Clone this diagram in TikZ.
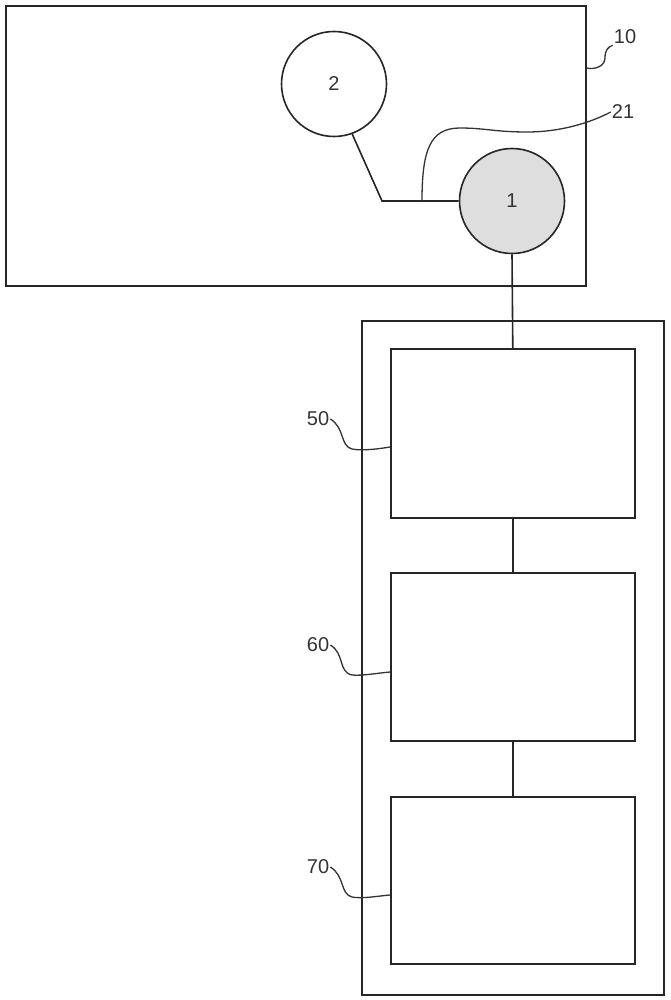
\documentclass[tikz,border=0pt]{standalone}
\usepackage{fontspec}
\setmainfont{Liberation Sans}
\usetikzlibrary{calc}
\begin{document}
\begin{tikzpicture}[x=1pt,y=-1pt,
  ln/.style={line width=1.6pt, draw=black!85},
  blk/.style={ln, rectangle, anchor=north west, inner sep=0pt},
  circ/.style={ln, circle, inner sep=0pt, minimum size=105pt, font=\fontsize{20}{23}\selectfont, text=black!80},
  lbl/.style={font=\fontsize{20}{23}\selectfont, text=black!80, inner sep=1pt},
  lead/.style={line width=1.3pt, draw=black!80}]
\useasboundingbox (0,0) rectangle (670,1000);
% top housing
\node[blk, minimum width=580pt, minimum height=280pt] (top) at (5,5) {};
\node[circ] (c2) at (334,84) {2};
\node[circ, fill=black!13] (c1) at (512,201) {1};
% lower housing and blocks
\node[blk, minimum width=302pt, minimum height=674pt] (outer) at (361,320) {};
\node[blk, minimum width=244pt, minimum height=169pt] (b50) at (390,348) {};
\node[blk, minimum width=244pt, minimum height=168pt] (b60) at (390,572) {};
\node[blk, minimum width=244pt, minimum height=167pt] (b70) at (390,796) {};
% labels
\node[lbl] (l10) at (625,37) {10};
\node[lbl] (l21) at (623,112) {21};
\node[lbl] (l50) at (318,419) {50};
\node[lbl] (l60) at (318,645) {60};
\node[lbl] (l70) at (318,867) {70};
% connectors
\coordinate (j) at (382,201);
\coordinate (k) at (422,201);
\draw[ln] (c2.-70) -- (j) -- (c1.west);
\draw[ln] (c1.south) -- (b50.north);
\draw[ln] (b50.south) -- (b60.north);
\draw[ln] (b60.south) -- (b70.north);
% cable 21
\draw[lead] (k) .. controls (422,150) and (430,128) .. (460,128)
  .. controls (485,128) and (495,132) .. (527,132)
  .. controls (560,132) and (590,123) .. (l21.west);
% leaders
\coordinate (a10) at ($(top.north east)+(0,63)$);
\draw[lead] (a10) .. controls (595,70) and (605,66) .. (605,58)
  .. controls (605,50) and (608,47) .. (l10.south west);
\coordinate (a50) at ($(b50.north west)+(0,99)$);
\draw[lead] (l50.east) .. controls (345,428) and (340,446) .. (352,449)
  .. controls (362,451) and (378,449) .. (a50);
\coordinate (a60) at ($(b60.north west)+(0,100)$);
\draw[lead] (l60.east) .. controls (345,654) and (338,672) .. (352,675)
  .. controls (362,676) and (378,673) .. (a60);
\coordinate (a70) at ($(b70.north west)+(0,99)$);
\draw[lead] (l70.east) .. controls (345,876) and (340,894) .. (352,897)
  .. controls (362,899) and (378,896) .. (a70);
\end{tikzpicture}
\end{document}
